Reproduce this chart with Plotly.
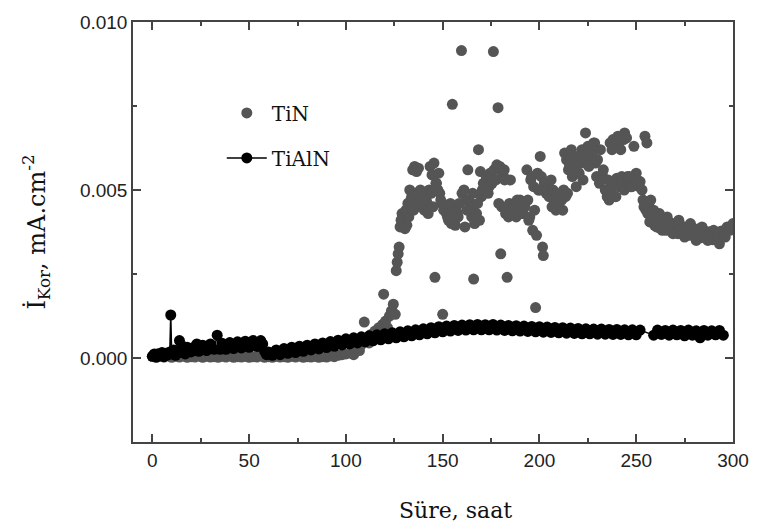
import plotly.graph_objects as go

# ---- data (time in hours, current density mA/cm2) ----
tin_t = [0, 2, 4, 6, 8, 10, 12, 14, 16, 18, 20, 22, 24, 26, 28, 30, 32, 34, 36, 38,
         40, 42, 44, 46, 48, 50, 52, 54, 56, 58, 60, 62, 64, 66, 68, 70, 72, 74, 76, 78,
         80, 82, 84, 86, 88, 90, 92, 94, 96, 98, 100, 102, 104, 105, 106, 107, 108, 109.5,
         111, 112, 113, 114, 115, 116, 117, 118, 119, 119.5, 120.5, 121.5, 122.5, 123.5,
         124.5, 125.5, 126, 126.5, 127, 127.5, 128, 128.5, 129, 130, 131, 132, 133, 134,
         134.5, 135.5, 136.5, 137.5, 138, 139, 140, 141, 142, 143, 143.5, 144.5, 145.5,
         146, 146.5, 147.5, 148.5, 149.5, 150, 150.5, 151.5, 152.5, 153.5, 154.5, 155,
         155.5, 156.5, 157.5, 158.5, 159.7, 160, 161, 162, 163, 164, 165, 166, 166.5,
         167.5, 168.5, 169.5, 170, 171, 172, 173, 174, 175, 176.2, 177, 178, 178.6, 179,
         180, 180.5, 181.5, 182.5, 183.3, 184, 185, 186, 187, 188, 189, 190, 191, 192,
         193.5, 194.5, 195.5, 196.5, 197.5, 198, 198.5, 199.5, 200.4, 201.6, 202, 202.5,
         203.5, 204.5, 205.5, 206.5, 207.5, 208.5, 209.5, 210.5, 211.5, 212.5, 213, 214,
         215, 216, 217, 218, 219, 220, 221, 222, 223, 223.8, 225, 226, 227, 228, 229,
         229.5, 231, 232.5, 234, 235, 236, 237, 238.5, 240, 241.5, 243, 244.5, 246,
         247.5, 249, 250.5, 252, 236.5, 237.5, 238, 239, 240.5, 241, 242, 243.5, 244,
         245, 253, 253.5, 254, 255, 256, 257, 258, 259.5, 261, 262.5, 264, 265.5, 267,
         268.5, 270, 271.5, 273, 274.5, 276, 277.5, 279, 280.5, 282, 283.5, 285, 286.5,
         288, 289.5, 291, 292.5, 294, 295.5, 297, 298.5, 300,
         130.5, 131.5, 132.5, 133.5, 135, 136, 137, 138.5, 139.5, 140.5, 141.5, 142.5,
         144, 145, 146.8, 147, 148, 149, 151, 152, 153, 154, 156, 157, 158, 161.5, 162.5,
         163.5, 164.5, 165.5, 167, 168, 169, 170.5, 171.5, 172.5, 173.5, 174.5, 175.5,
         176.5, 177.5, 179.5, 180.8, 181.8, 182, 184.5, 185.5, 186.5, 187.5, 188.5, 189.5,
         190.5, 191.5, 192.5, 194, 195, 196, 197, 199, 200, 201, 203, 204, 205, 206, 207,
         208, 209, 210, 211, 212, 213.5, 214.5, 215.5, 216.5, 217.5, 218.5, 219.5, 220.5,
         221.5, 222.5, 224, 225.5, 226.5, 227.5, 228.5, 230, 231.5, 233, 234.5, 235.5,
         236.8, 238, 239.5, 240.8, 242.5, 243.8, 245.5, 247, 248.5, 250, 251.5, 246.5,
         247.8, 248.8, 254.5, 255.5, 256.5, 257.5, 259, 260.5, 262, 263.5, 266, 269, 272,
         275, 278, 281, 284, 287, 290, 293, 296, 299]
tin_v = [0.00005, 0.00002, 0.00006, 0.00003, 0.00007, 0.00002, 0.00005, 0.00003, 0.00006,
         0.00002, 0.00004, 0.00003, 0.00006, 0.00002, 0.00005, 0.00003, 0.00004, 0.00002,
         0.00005, 0.00003, 0.00006, 0.00002, 0.00004, 0.00003, 0.00005, 0.00002, 0.00004,
         0.00003, 0.00006, 0.00002, 0.00004, 0.00002, 0.00005, 0.00003, 0.00004, 0.00002,
         0.00005, 0.00003, 0.00006, 0.00002, 0.00004, 0.00003, 0.00005, 0.00002, 0.00004,
         0.00003, 0.00006, 0.00004, 0.00008, 0.00010, 0.00012, 0.00015, 0.00010, 0.00020,
         0.00030, 0.00022, 0.00040, 0.00107, 0.00060, 0.00045, 0.00070, 0.00055, 0.00080,
         0.00065, 0.00090, 0.00075, 0.00100, 0.00190, 0.00110, 0.00090, 0.00125, 0.00140,
         0.00160, 0.00130, 0.00260, 0.00285, 0.00310, 0.00330, 0.00390, 0.00410, 0.00430,
         0.00400, 0.00440, 0.00460, 0.00500, 0.00480, 0.00560, 0.00570, 0.00555, 0.00565,
         0.00470, 0.00450, 0.00480, 0.00440, 0.00460, 0.00500, 0.00570, 0.00545, 0.00580,
         0.00240, 0.00520, 0.00500, 0.00490, 0.00460, 0.00130, 0.00440, 0.00450, 0.00420,
         0.00430, 0.00400, 0.00755, 0.00410, 0.00395, 0.00430, 0.00460, 0.00915, 0.00490,
         0.00500, 0.00470, 0.00560, 0.00450, 0.00420, 0.00235, 0.00400, 0.00430, 0.00620,
         0.00555, 0.00480, 0.00520, 0.00500, 0.00540, 0.00510, 0.00550, 0.00912, 0.00530,
         0.00575, 0.00745, 0.00460, 0.00310, 0.00450, 0.00540, 0.00430, 0.00240, 0.00420,
         0.00530, 0.00440, 0.00460, 0.00420, 0.00450, 0.00470, 0.00430, 0.00460, 0.00560,
         0.00410, 0.00530, 0.00380, 0.00440, 0.00150, 0.00365, 0.00500, 0.00600, 0.00330,
         0.00305, 0.00520, 0.00490, 0.00510, 0.00480, 0.00450, 0.00470, 0.00440, 0.00460,
         0.00480, 0.00470, 0.00500, 0.00610, 0.00590, 0.00560, 0.00600, 0.00540, 0.00570,
         0.00510, 0.00550, 0.00580, 0.00620, 0.00600, 0.00670, 0.00630, 0.00590, 0.00610,
         0.00640, 0.00580, 0.00540, 0.00520, 0.00545, 0.00500, 0.00480, 0.00470, 0.00500,
         0.00525, 0.00535, 0.00520, 0.00530, 0.00515, 0.00530, 0.00525, 0.00520, 0.00530,
         0.00525, 0.00640, 0.00620, 0.00650, 0.00630, 0.00660, 0.00640, 0.00620, 0.00650,
         0.00670, 0.00655, 0.00500, 0.00470, 0.00450, 0.00440, 0.00430, 0.00405, 0.00425,
         0.00395, 0.00420, 0.00385, 0.00410, 0.00380, 0.00405, 0.00375, 0.00400, 0.00370,
         0.00395, 0.00368, 0.00390, 0.00365, 0.00388, 0.00360, 0.00384, 0.00358, 0.00380,
         0.00355, 0.00376, 0.00352, 0.00372, 0.00360, 0.00378, 0.00370, 0.00390, 0.00380,
         0.00400, 0.00385, 0.00395,
         0.00420, 0.00470, 0.00440, 0.00490, 0.00460, 0.00500, 0.00480, 0.00440, 0.00470,
         0.00430, 0.00490, 0.00450, 0.00520, 0.00500, 0.00550, 0.00470, 0.00450, 0.00430,
         0.00410, 0.00460, 0.00400, 0.00440, 0.00420, 0.00390, 0.00440, 0.00470, 0.00450,
         0.00490, 0.00430, 0.00460, 0.00410, 0.00500, 0.00520, 0.00540, 0.00490, 0.00550,
         0.00520, 0.00560, 0.00530, 0.00570, 0.00550, 0.00560, 0.00530, 0.00460, 0.00440,
         0.00450, 0.00430, 0.00470, 0.00440, 0.00460, 0.00430, 0.00450, 0.00470, 0.00420,
         0.00540, 0.00510, 0.00550, 0.00500, 0.00540, 0.00520, 0.00500, 0.00480, 0.00530,
         0.00500, 0.00460, 0.00490, 0.00450, 0.00470, 0.00440, 0.00480, 0.00490, 0.00570,
         0.00620, 0.00580, 0.00560, 0.00600, 0.00550, 0.00580, 0.00530, 0.00600, 0.00570,
         0.00630, 0.00600, 0.00640, 0.00590, 0.00620, 0.00560, 0.00500, 0.00530, 0.00490,
         0.00520, 0.00480, 0.00510, 0.00540, 0.00500, 0.00540, 0.00510, 0.00530, 0.00550,
         0.00510, 0.00540, 0.00510, 0.00630, 0.00660, 0.00640, 0.00460, 0.00470, 0.00440,
         0.00390, 0.00430, 0.00380, 0.00420, 0.00370, 0.00410, 0.00360, 0.00400, 0.00350,
         0.00390, 0.00350, 0.00380, 0.00340, 0.00360, 0.00390, 0.00370, 0.00410]

tialn_t = [0, 1, 2, 3, 4, 5, 6, 7, 8, 9, 9.5, 10, 11, 12, 13, 14, 15, 16, 17, 18, 20,
           22, 23, 24, 26, 28, 30, 32, 33.5, 35, 36, 38, 40, 42, 44, 46, 48, 50, 52, 54,
           56, 57, 58, 59, 60, 62, 64, 66, 68, 70, 72, 74, 76, 78, 80, 82, 84, 86, 88,
           90, 92, 94, 96, 98, 100, 102, 104, 106, 108, 110, 112, 114, 116, 118, 120,
           122, 124, 126, 128, 130, 132, 134, 136, 138, 140, 142, 144, 146, 148, 150,
           152, 154, 156, 158, 160, 162, 164, 166, 168, 170, 172, 174, 176, 178, 180,
           182, 184, 186, 188, 190, 192, 194, 196, 198, 200, 202, 204, 206, 208, 210,
           212, 214, 216, 218, 220, 222, 224, 226, 228, 230, 232, 234, 236, 238, 240,
           242, 244, 246, 248, 250, 252, 259, 261, 263, 265, 267, 269, 271, 273, 275,
           277, 279, 281, 283, 285, 287, 289, 291, 293, 295]
tialn_v = [0.00005, 0.00012, 0.00003, 0.00013, 0.00006, 0.00016, 0.00004, 0.00014,
           0.00009, 0.00018, 0.00128, 0.00012, 0.00024, 0.00008, 0.00022, 0.00052,
           0.00016, 0.00034, 0.00012, 0.00032, 0.00018, 0.00034, 0.00042, 0.00020,
           0.00038, 0.00022, 0.00042, 0.00026, 0.00068, 0.00026, 0.00044, 0.00026,
           0.00046, 0.00028, 0.00048, 0.00030, 0.00050, 0.00032, 0.00052, 0.00034,
           0.00052, 0.00042, 0.00020, 0.00010, 0.00018, 0.00008, 0.00024, 0.00010,
           0.00028, 0.00014, 0.00032, 0.00016, 0.00035, 0.00020, 0.00038, 0.00024,
           0.00042, 0.00027, 0.00045, 0.00031, 0.00049, 0.00035, 0.00053, 0.00039,
           0.00057, 0.00042, 0.00060, 0.00045, 0.00063, 0.00048, 0.00066, 0.00051,
           0.00069, 0.00054, 0.00072, 0.00057, 0.00075, 0.00060, 0.00078, 0.00063,
           0.00081, 0.00066, 0.00084, 0.00069, 0.00087, 0.00072, 0.00090, 0.00075,
           0.00093, 0.00078, 0.00095, 0.00080, 0.00097, 0.00082, 0.00098, 0.00083,
           0.00099, 0.00084, 0.00100, 0.00084, 0.00099, 0.00084, 0.00100, 0.00083,
           0.00098, 0.00082, 0.00097, 0.00081, 0.00096, 0.00080, 0.00095, 0.00079,
           0.00094, 0.00078, 0.00093, 0.00077, 0.00092, 0.00076, 0.00091, 0.00075,
           0.00090, 0.00074, 0.00089, 0.00073, 0.00088, 0.00072, 0.00087, 0.00072,
           0.00086, 0.00071, 0.00086, 0.00071, 0.00085, 0.00070, 0.00085, 0.00070,
           0.00084, 0.00069, 0.00084, 0.00069, 0.00083, 0.00068, 0.00083, 0.00070,
           0.00082, 0.00068, 0.00083, 0.00069, 0.00082, 0.00066, 0.00083, 0.00068,
           0.00081, 0.00060, 0.00082, 0.00068, 0.00081, 0.00069, 0.00082, 0.00068]

x_ticks = [0, 50, 100, 150, 200, 250, 300]
y_ticks = [0.000, 0.005, 0.010]

tick_font = dict(family="Liberation Sans, Arial", size=19, color="#222222")
serif = "DejaVu Serif, Liberation Serif, serif"

fig = go.Figure()
fig.add_trace(go.Scatter(
    x=tin_t, y=tin_v, mode="markers", name="TiN", legendgroup="a",
    marker=dict(color="#555555", size=11, line=dict(width=0)),
))
fig.add_trace(go.Scatter(
    x=tialn_t, y=tialn_v, mode="lines+markers", name="TiAlN", legendgroup="b",
    line=dict(color="#000000", width=1.5),
    marker=dict(color="#000000", size=11, line=dict(width=0)),
))

axis_common = dict(
    showline=True, linecolor="#444444", linewidth=1.5, mirror="ticks",
    ticks="inside", tickcolor="#444444", tickwidth=1.5, ticklen=8,
    showgrid=False, zeroline=False, tickfont=tick_font,
)
fig.update_xaxes(
    range=[-10, 300], tickvals=x_ticks,
    minor=dict(ticks="inside", dtick=25, tick0=0, ticklen=4, tickcolor="#444444", tickwidth=1.5, showgrid=False),
    **axis_common,
)
fig.update_yaxes(
    range=[-0.0025, 0.0100], tickvals=y_ticks, tickformat=".3f",
    minor=dict(ticks="inside", dtick=0.0025, tick0=0, ticklen=4, tickcolor="#444444", tickwidth=1.5, showgrid=False),
    title=dict(text="İ<sub>Kor</sub>, mA.cm<sup>-2</sup>", font=dict(family=serif, size=24, color="#111111"), standoff=28),
    **axis_common,
)
fig.add_annotation(
    text="Süre, saat", xref="paper", yref="paper", x=0.538, y=-0.162,
    xanchor="center", yanchor="middle", showarrow=False,
    font=dict(family=serif, size=22, color="#111111"),
)
fig.update_layout(
    width=761, height=530,
    margin=dict(l=133, r=18, t=20, b=88),
    paper_bgcolor="white", plot_bgcolor="white",
    legend=dict(x=0.148, y=0.83, xanchor="left", yanchor="top",
                font=dict(family=serif, size=20, color="#111111"),
                bgcolor="rgba(0,0,0,0)", tracegroupgap=16, itemwidth=40),
    showlegend=True,
)
fig.write_html("out.html")
